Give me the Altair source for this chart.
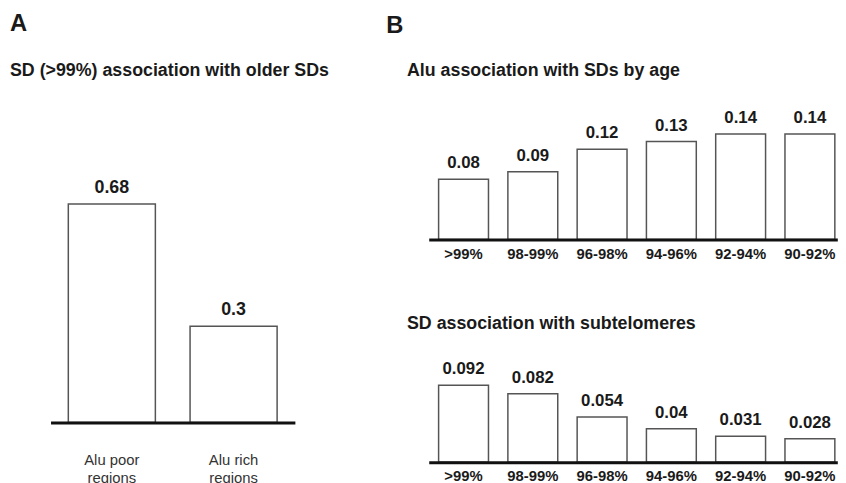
import altair as alt
import pandas as pd

# ---------------- data ----------------
a_categories = ["Alu poor regions", "Alu rich regions"]
a_values = [0.68, 0.3]

b_categories = [">99%", "98-99%", "96-98%", "94-96%", "92-94%", "90-92%"]
b_alu_values = [0.08, 0.09, 0.12, 0.13, 0.14, 0.14]
b_subtel_values = [0.092, 0.082, 0.054, 0.04, 0.031, 0.028]

panel_letters = ["A", "B"]
titles = [
    "SD (>99%) association with older SDs",
    "Alu association with SDs by age",
    "SD association with subtelomeres",
]

dfA = pd.DataFrame({"cat": a_categories, "val": a_values})
dfB1 = pd.DataFrame({"cat": b_categories, "val": b_alu_values})
dfB2 = pd.DataFrame({"cat": b_categories, "val": b_subtel_values})

FONT = "Liberation Sans"
TXT = "#1a1a1a"
BAR_STROKE = "#555555"

# ---------------- layout ----------------
TOP = 110.0
hA = 422.5 - TOP
hB1 = 237.5 - TOP
hB2 = 84.5


def axis_common(**kw):
    opts = dict(
        title=None, labelAngle=0, ticks=False, domainColor="#111111",
        domainWidth=3, zindex=1, labelFont=FONT, labelColor=TXT, grid=False,
    )
    opts.update(kw)
    return alt.Axis(**opts)


# Panel A
xA = alt.X(
    "cat:N", sort=a_categories,
    scale=alt.Scale(paddingInner=0.285, paddingOuter=0.146),
    axis=axis_common(
        labelFontSize=15, labelColor="#333333", labelPadding=30, labelLineHeight=19,
        labelExpr="[replace(datum.label, ' regions', ''), 'regions']",
    ),
)
yA = alt.Y("val:Q", scale=alt.Scale(domain=[0, hA / 325.0]), axis=None)
baseA = alt.Chart(dfA)
barsA = baseA.mark_bar(fill="white", stroke=BAR_STROKE, strokeWidth=1.5).encode(x=xA, y=yA)
textA = baseA.mark_text(
    baseline="bottom", dy=-7, fontSize=18, fontWeight="bold", font=FONT, color=TXT
).encode(x=xA, y=yA, text="val:Q")
chartA = (barsA + textA).properties(
    width=247, height=hA,
    title=alt.Title(
        panel_letters[0], subtitle="\u00a0" + titles[0], anchor="start", dx=-41,
        fontSize=24, fontWeight="bold", font=FONT, color=TXT,
        subtitleFontSize=18, subtitleFontWeight="bold", subtitleFont=FONT,
        subtitleColor=TXT, subtitlePadding=26, offset=34,
    ),
)


def b_panel(df, values_scale, height, title, offset):
    x = alt.X(
        "cat:N", sort=b_categories,
        scale=alt.Scale(paddingInner=0.28, paddingOuter=0.089, align=0.8),
        axis=axis_common(labelFontSize=15, labelFontWeight="bold", labelPadding=7),
    )
    y = alt.Y("val:Q", scale=alt.Scale(domain=[0, height / values_scale]), axis=None)
    base = alt.Chart(df)
    bars = base.mark_bar(fill="white", stroke=BAR_STROKE, strokeWidth=1.5).encode(x=x, y=y)
    text = base.mark_text(
        baseline="bottom", dy=-7, fontSize=17, fontWeight="bold", font=FONT, color=TXT
    ).encode(x=x, y=y, text="val:Q")
    return (bars + text).properties(
        width=413, height=height,
        title=alt.Title(
            title, anchor="start", dx=-22, fontSize=18, fontWeight="bold",
            font=FONT, color=TXT, offset=offset,
        ),
    )


chartB1 = b_panel(dfB1, 762.0, hB1, titles[1], 30)
chartB2 = b_panel(dfB2, 845.0, hB2, titles[2], 28)

chartB = alt.vconcat(chartB1, chartB2, spacing=140, bounds="flush").properties(
    title=alt.Title(
        panel_letters[1], anchor="start", dx=-21, dy=-2.5, fontSize=24, fontWeight="bold",
        font=FONT, color=TXT, offset=22,
    )
)

chart = (
    alt.hconcat(chartA, chartB, spacing=135.3, bounds="flush")
    .properties(padding={"left": 2, "top": 2, "right": 0, "bottom": 0}, background="white")
    .configure_view(stroke=None)
)

chart.save("out.html", embed_options={"renderer": "svg", "actions": False})
